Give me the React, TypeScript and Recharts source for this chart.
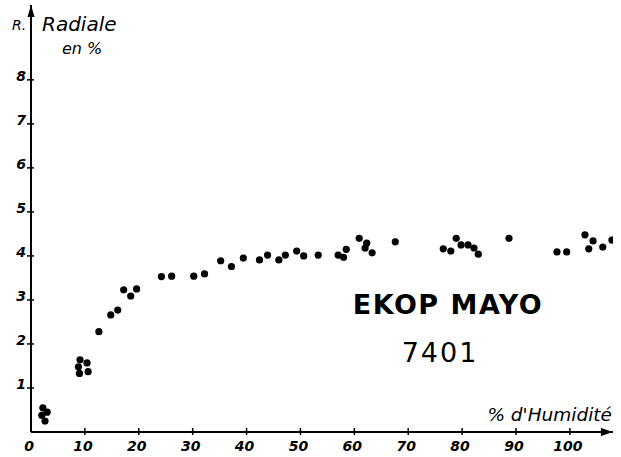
import React from "react";
import { ScatterChart, Scatter, XAxis, YAxis, ReferenceDot } from "recharts";

const humidity = [
  2.2, 3.0, 2.0, 2.6, 9.1, 10.4, 8.8, 10.6, 9.0, 12.6, 14.8, 16.1, 17.2, 18.5, 19.6,
  24.2, 26.1, 30.2, 32.2, 35.2, 37.2, 39.4, 42.4, 43.9, 46.0, 47.2, 49.3, 50.6, 53.3,
  57.0, 58.5, 58.0, 60.9, 62.3, 62.0, 63.3, 67.6, 76.5, 77.9, 78.9, 79.8, 81.1, 82.2,
  83.0, 88.7, 97.6, 99.4, 102.8, 104.3, 103.5, 106.1, 107.8,
];
const radial = [
  0.55, 0.45, 0.38, 0.25, 1.64, 1.57, 1.48, 1.37, 1.33, 2.28, 2.66, 2.77, 3.23, 3.09, 3.25,
  3.53, 3.54, 3.54, 3.59, 3.89, 3.76, 3.95, 3.91, 4.02, 3.91, 4.02, 4.11, 4.0, 4.02,
  4.02, 4.15, 3.97, 4.4, 4.29, 4.18, 4.07, 4.32, 4.16, 4.11, 4.4, 4.25, 4.25, 4.18,
  4.04, 4.4, 4.09, 4.09, 4.48, 4.34, 4.16, 4.2, 4.36,
];
const xTicks = [0, 10, 20, 30, 40, 50, 60, 70, 80, 90, 100];
const yTicks = [1, 2, 3, 4, 5, 6, 7, 8];
const xMax = 108;
const yMax = 9.7;

const data = humidity.map((h, i) => ({ x: h, y: radial[i] }));

const tickFont = "'DejaVu Sans', sans-serif";

const XTick = (props: any) => {
  const { x, y, payload } = props;
  return (
    <g>
      {payload.value !== 0 && (
        <line x1={x} x2={x} y1={y - 4} y2={y + 3} stroke="#000" strokeWidth={1.5} />
      )}
      <text
        x={x - 2}
        y={y + 19}
        textAnchor="middle"
        fontFamily={tickFont}
        fontStyle="italic"
        fontWeight="bold"
        fontSize={14}
        fill="#000"
      >
        {payload.value}
      </text>
    </g>
  );
};

const YTick = (props: any) => {
  const { x, y, payload } = props;
  return (
    <g>
      <line x1={x - 4} x2={x + 3} y1={y} y2={y} stroke="#000" strokeWidth={1.5} />
      <text
        x={x - 5}
        y={y + 1}
        textAnchor="end"
        fontFamily={tickFont}
        fontStyle="italic"
        fontWeight="bold"
        fontSize={14}
        fill="#000"
      >
        {payload.value}
      </text>
    </g>
  );
};

const Dot = (props: any) => <circle cx={props.cx} cy={props.cy} r={3.6} fill="#000" />;

const ArrowRight = (props: any) => {
  const { cx, cy } = props;
  return <path d={`M${cx - 12},${cy - 4} L${cx},${cy} L${cx - 12},${cy + 4} Z`} fill="#000" />;
};
const ArrowUp = (props: any) => {
  const { cx, cy } = props;
  return <path d={`M${cx - 3.5},${cy + 12} L${cx},${cy} L${cx + 3.5},${cy + 12} Z`} fill="#000" />;
};

export default function App() {
  const hand = "'DejaVu Sans', sans-serif";
  return (
    <div style={{ position: "absolute", left: 0, top: 0, width: 621, height: 457, background: "#fff" }}>
      <ScatterChart width={621} height={457} margin={{ top: 5, right: 8, bottom: 0, left: 0 }}>
        <XAxis
          type="number"
          dataKey="x"
          domain={[0, xMax]}
          ticks={xTicks}
          height={25}
          tickSize={0}
          tickMargin={0}
          tickLine={false}
          axisLine={{ stroke: "#000", strokeWidth: 2 }}
          tick={<XTick />}
          interval={0}
          allowDataOverflow
        />
        <YAxis
          type="number"
          dataKey="y"
          domain={[0, yMax]}
          ticks={yTicks}
          width={31}
          tickSize={0}
          tickMargin={0}
          tickLine={false}
          axisLine={{ stroke: "#000", strokeWidth: 2 }}
          tick={<YTick />}
          interval={0}
          allowDataOverflow
        />
        <Scatter data={data} shape={<Dot />} isAnimationActive={false} />
        <ReferenceDot x={xMax} y={0} ifOverflow="visible" shape={<ArrowRight />} />
        <ReferenceDot x={0} y={yMax} ifOverflow="visible" shape={<ArrowUp />} />
      </ScatterChart>
      <svg
        width={621}
        height={457}
        style={{ position: "absolute", left: 0, top: 0, pointerEvents: "none" }}
      >
        <text x={12} y={30} fontFamily={hand} fontStyle="italic" fontSize={14} fill="#000">
          R.
        </text>
        <text x={42} y={31} fontFamily={hand} fontStyle="italic" fontSize={20} fill="#000">
          Radiale
        </text>
        <text x={62} y={54} fontFamily={hand} fontStyle="italic" fontSize={16} fill="#000">
          en %
        </text>
        <text
          x={612}
          y={421}
          textAnchor="end"
          fontFamily={hand}
          fontStyle="italic"
          fontSize={18.5}
          fill="#000"
        >
          % d'Humidité
        </text>
        <text
          x={448}
          y={314}
          textAnchor="middle"
          fontFamily="'DejaVu Sans', sans-serif"
          fontWeight="bold"
          fontSize={27}
          letterSpacing={1.5}
          fill="#000"
        >
          EKOP MAYO
        </text>
        <text
          x={440}
          y={362}
          textAnchor="middle"
          fontFamily="'DejaVu Sans', sans-serif"
          fontSize={27}
          letterSpacing={2}
          fill="#000"
        >
          7401
        </text>
      </svg>
    </div>
  );
}
